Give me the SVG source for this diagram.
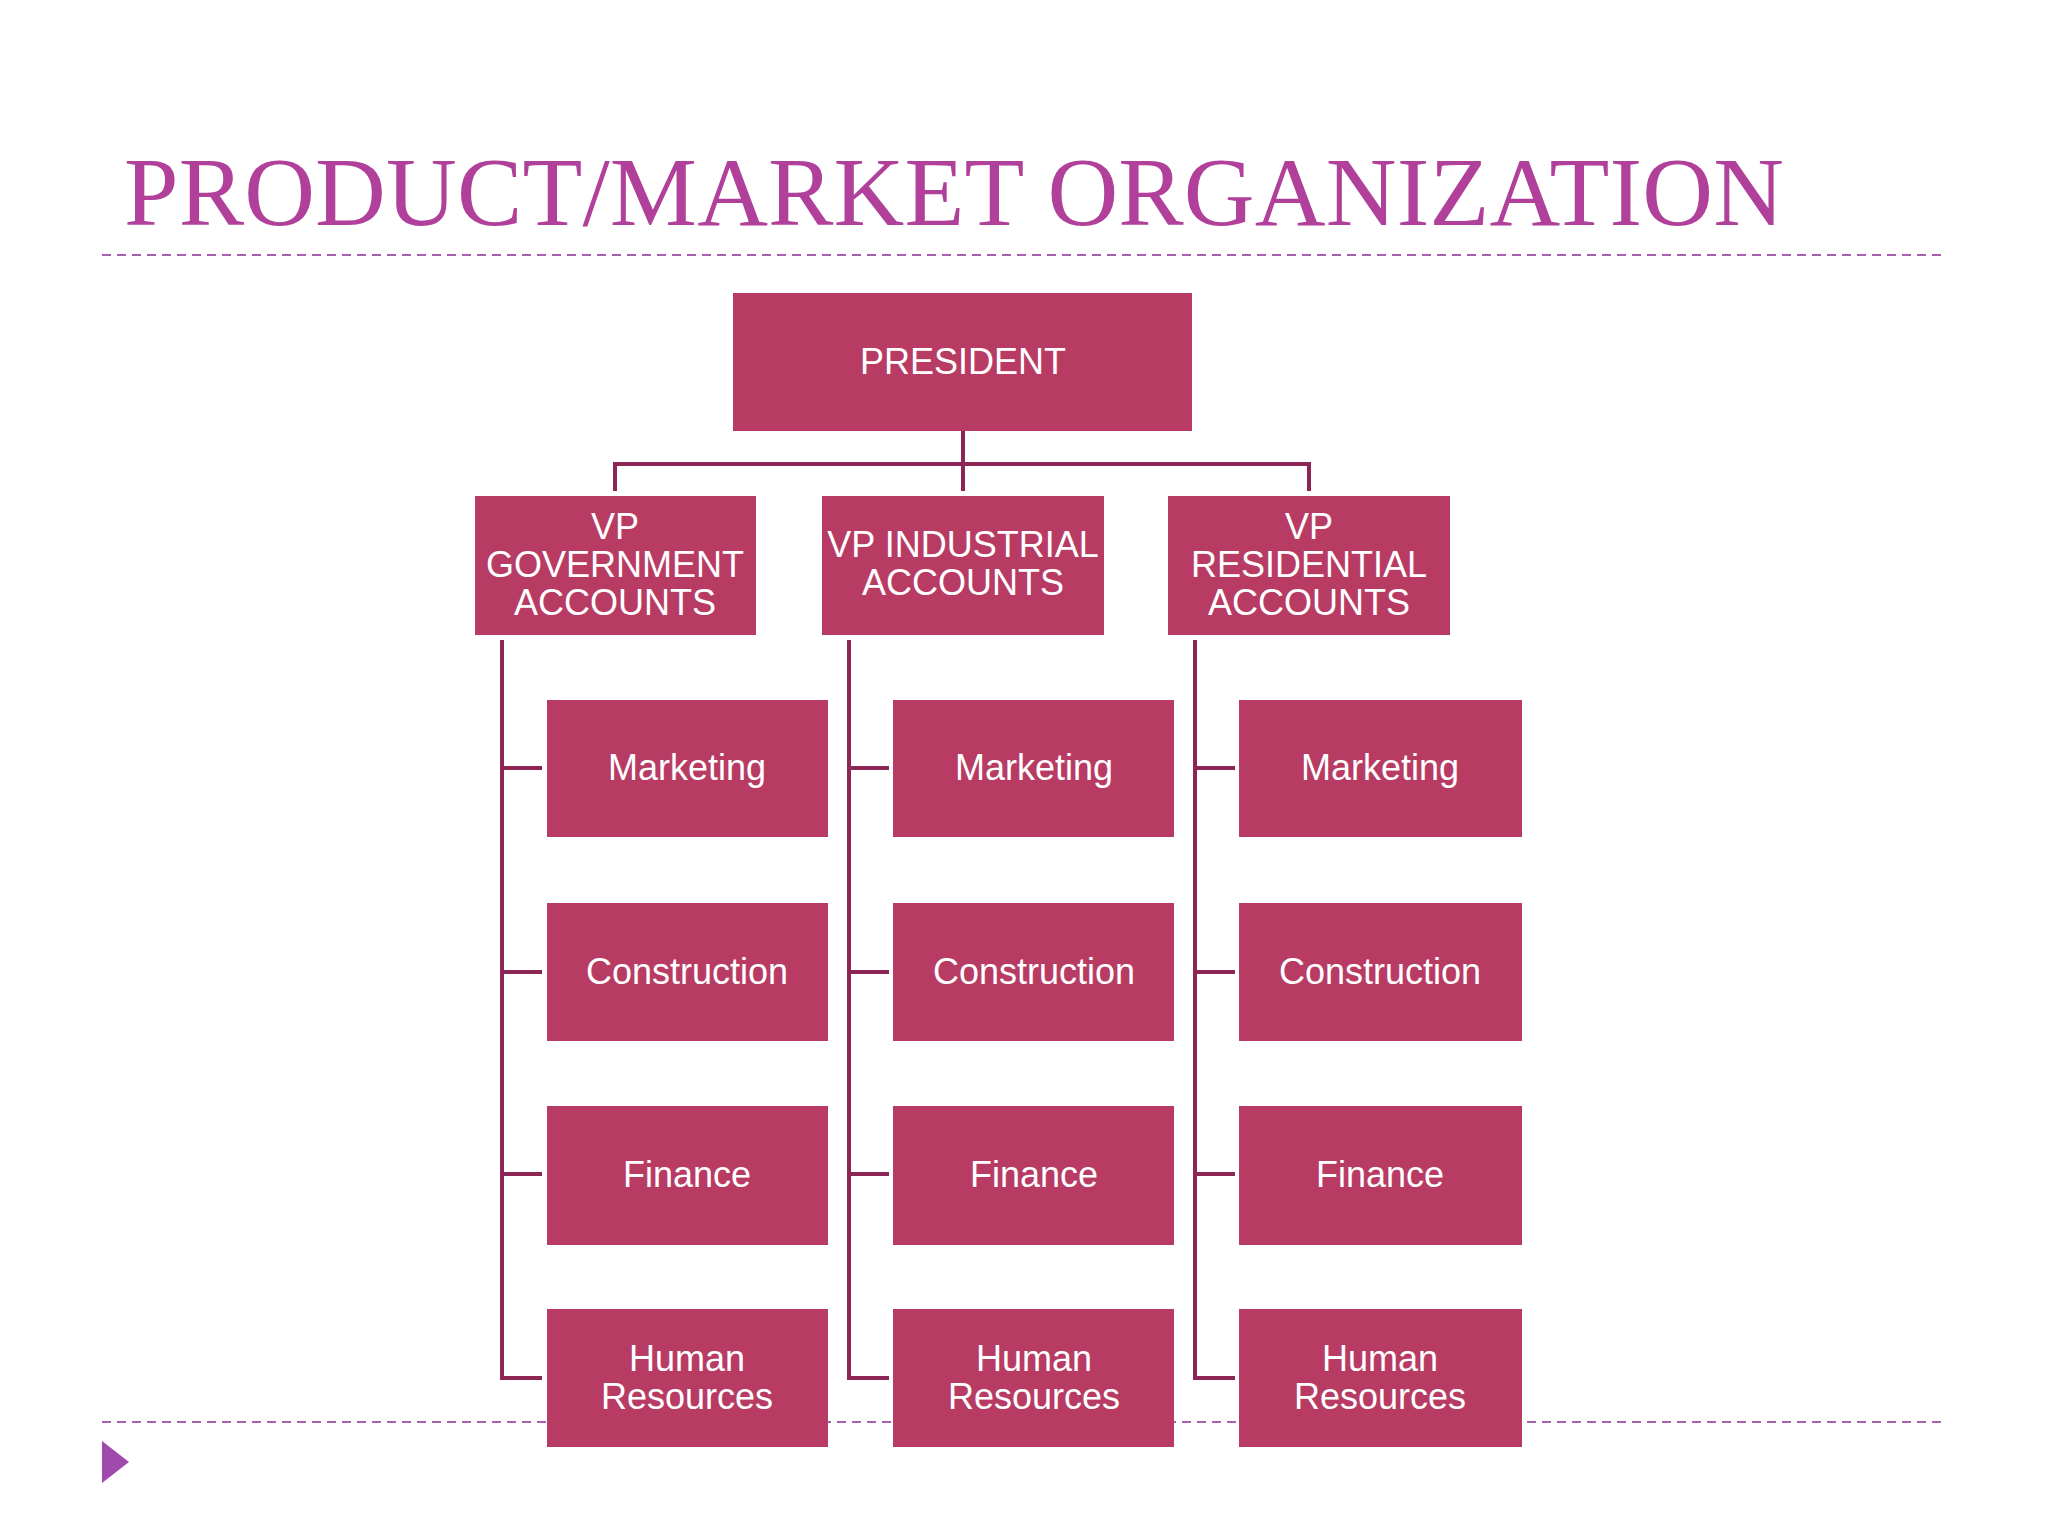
<svg xmlns="http://www.w3.org/2000/svg" width="2048" height="1536" viewBox="0 0 2048 1536">
<style>
.b{fill:#B83B64}
.t{fill:#fff;font-family:"Liberation Sans",Arial,sans-serif;font-size:36px;text-anchor:middle}
.c{stroke:#8E2655;stroke-width:4;fill:none}
.d{stroke:#A85FB0;stroke-width:2;stroke-dasharray:9 6}
</style>
<rect width="2048" height="1536" fill="#fff"/>
<text x="124" y="225" font-family="Liberation Serif,serif" font-size="98" fill="#B0409A" textLength="1660">PRODUCT/MARKET ORGANIZATION</text>
<line class="d" x1="102" y1="255" x2="1946" y2="255"/>
<line class="d" x1="102" y1="1422" x2="1946" y2="1422"/>
<polygon points="102,1441 129,1462 102,1483" fill="#A04AAE"/>
<g id="connectors" class="c">
<path d="M963 431V491M615 491V464H1309V491"/>
<path d="M502 640V1378H542M502 768H542M502 972H542M502 1174H542"/>
<path d="M849 640V1378H889M849 768H889M849 972H889M849 1174H889"/>
<path d="M1195 640V1378H1235M1195 768H1235M1195 972H1235M1195 1174H1235"/>
</g>
<g id="president"><rect class="b" x="733" y="293" width="459" height="138"/><text class="t" x="963" y="374">PRESIDENT</text></g>
<g id="vp-gov"><rect class="b" x="475" y="496" width="281" height="139"/><text class="t" x="615" y="539">VP</text><text class="t" x="615" y="577">GOVERNMENT</text><text class="t" x="615" y="615">ACCOUNTS</text></g>
<g id="vp-ind"><rect class="b" x="822" y="496" width="282" height="139"/><text class="t" x="963" y="557">VP INDUSTRIAL</text><text class="t" x="963" y="595">ACCOUNTS</text></g>
<g id="vp-res"><rect class="b" x="1168" y="496" width="282" height="139"/><text class="t" x="1309" y="539">VP</text><text class="t" x="1309" y="577">RESIDENTIAL</text><text class="t" x="1309" y="615">ACCOUNTS</text></g>
<g id="g-mkt"><rect class="b" x="547" y="700" width="281" height="137"/><text class="t" x="687" y="780">Marketing</text></g>
<g id="g-con"><rect class="b" x="547" y="903" width="281" height="138"/><text class="t" x="687" y="984">Construction</text></g>
<g id="g-fin"><rect class="b" x="547" y="1106" width="281" height="139"/><text class="t" x="687" y="1187">Finance</text></g>
<g id="g-hr"><rect class="b" x="547" y="1309" width="281" height="138"/><text class="t" x="687" y="1371">Human</text><text class="t" x="687" y="1409">Resources</text></g>
<g id="i-mkt"><rect class="b" x="893" y="700" width="281" height="137"/><text class="t" x="1034" y="780">Marketing</text></g>
<g id="i-con"><rect class="b" x="893" y="903" width="281" height="138"/><text class="t" x="1034" y="984">Construction</text></g>
<g id="i-fin"><rect class="b" x="893" y="1106" width="281" height="139"/><text class="t" x="1034" y="1187">Finance</text></g>
<g id="i-hr"><rect class="b" x="893" y="1309" width="281" height="138"/><text class="t" x="1034" y="1371">Human</text><text class="t" x="1034" y="1409">Resources</text></g>
<g id="r-mkt"><rect class="b" x="1239" y="700" width="283" height="137"/><text class="t" x="1380" y="780">Marketing</text></g>
<g id="r-con"><rect class="b" x="1239" y="903" width="283" height="138"/><text class="t" x="1380" y="984">Construction</text></g>
<g id="r-fin"><rect class="b" x="1239" y="1106" width="283" height="139"/><text class="t" x="1380" y="1187">Finance</text></g>
<g id="r-hr"><rect class="b" x="1239" y="1309" width="283" height="138"/><text class="t" x="1380" y="1371">Human</text><text class="t" x="1380" y="1409">Resources</text></g>
</svg>
